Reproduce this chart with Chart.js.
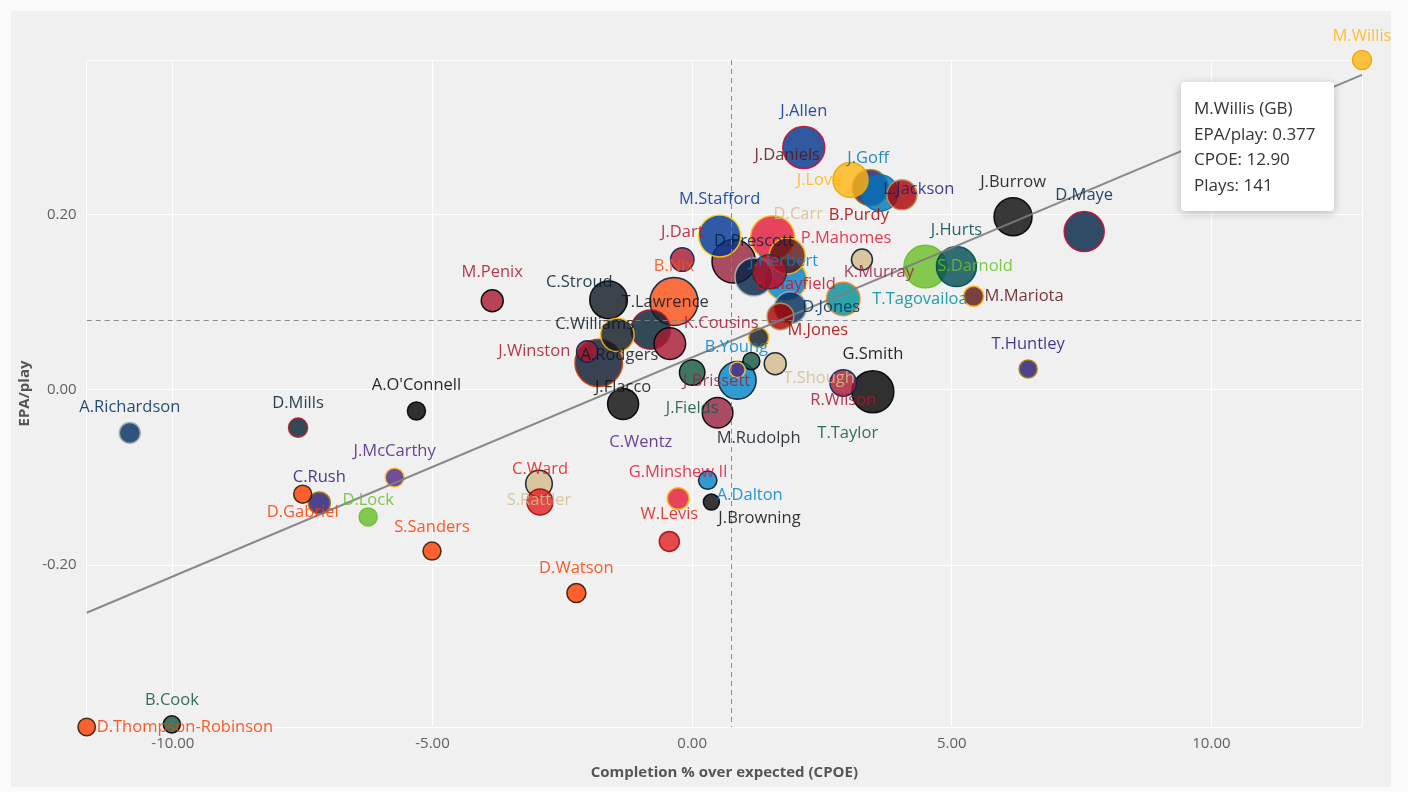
<!DOCTYPE html>
<html><head><meta charset="utf-8">
<script src="https://cdn.jsdelivr.net/npm/chart.js@4.4.1/dist/chart.umd.min.js"></script>
<style>
html,body{margin:0;padding:0;background:#fafafa;width:1408px;height:792px;overflow:hidden}
#panel{position:absolute;left:11px;top:11px;width:1380px;height:776px;background:#f0f0f0}
canvas{display:block}
</style></head><body>
<div id="panel"><canvas id="c" width="1380" height="776"></canvas></div>
<script>
// ---------- DATA ----------
const players = ['M.Willis','J.Allen','J.Love','L.Jackson','J.Goff','B.Purdy','J.Burrow','D.Maye','S.Darnold','J.Hurts',
 'M.Mariota','T.Huntley','D.Carr','P.Mahomes','J.Daniels','J.Herbert','B.Mayfield','D.Prescott','K.Murray','D.Jones',
 'M.Jones','T.Tagovailoa','M.Rudolph','T.Taylor','T.Shough','B.Young','C.Wentz','J.Fields','J.Brissett','J.Flacco',
 'T.Lawrence','A.Rodgers','C.Stroud','K.Cousins','B.Nix','C.Williams','J.Winston','M.Penix','G.Smith','R.Wilson',
 'J.Browning','A.Dalton','G.Minshew II','W.Levis','S.Rattler','C.Ward','D.Watson','S.Sanders','D.Lock','D.Gabriel',
 'C.Rush','J.McCarthy',"A.O'Connell",'D.Mills','A.Richardson','B.Cook','D.Thompson-Robinson','J.Dart','M.Stafford'];
const teams = ['GB','BUF','GB','BAL','DET','SF','CIN','NE','SEA','PHI',
 'WAS','BAL','NO','KC','WAS','LAC','TB','DAL','ARI','IND',
 'SF','MIA','PIT','NYJ','NO','CAR','MIN','NYJ','ARI','CIN',
 'JAX','PIT','HOU','ATL','DEN','CHI','NYG','ATL','LV','NYG',
 'CIN','CAR','KC','TEN','NO','TEN','CLE','CLE','SEA','CLE',
 'BAL','MIN','LV','HOU','IND','NYJ','CLE','NYG','LA'];
const cpoe = [12.90,2.15,3.05,3.43,3.62,4.04,6.18,7.55,4.49,5.09,
 5.42,6.47,3.27,1.55,1.83,1.80,1.49,1.19,0.80,1.89,
 1.70,2.91,1.28,1.14,1.60,0.87,0.87,0.00,0.49,-1.33,
 -1.61,-1.44,-0.80,-0.43,-0.35,-1.80,-2.02,-3.85,3.48,2.91,
 0.37,0.30,-0.27,-0.44,-2.95,-2.93,-2.23,-5.01,-6.24,-7.50,
 -7.18,-5.73,-5.31,-7.59,-10.83,-10.02,-11.66,-0.19,0.53];
const epa = [0.377,0.277,0.240,0.231,0.225,0.223,0.198,0.181,0.141,0.141,
 0.107,0.024,0.149,0.174,0.153,0.126,0.135,0.129,0.147,0.094,
 0.084,0.104,0.060,0.033,0.030,0.011,0.023,0.020,-0.026,-0.016,
 0.103,0.063,0.069,0.053,0.101,0.031,0.044,0.102,-0.002,0.008,
 -0.128,-0.103,-0.124,-0.173,-0.107,-0.128,-0.232,-0.184,-0.145,-0.119,
 -0.129,-0.100,-0.024,-0.043,-0.049,-0.382,-0.385,0.149,0.176];
const plays = [141,496,388,403,403,310,434,465,505,465,
 155,124,170,527,403,496,372,434,518,341,
 257,363,155,109,186,428,87,239,319,326,
 428,363,455,335,589,580,177,186,496,257,
 93,130,180,155,257,248,140,124,124,124,
 186,140,124,140,170,109,115,208,496];
const xTickValues = [-10,-5,0,5,10];
const yTickValues = [-0.2,0,0.2];
const xRange = [-11.66,12.90];
const yRange = [-0.385,0.377];
const meanCpoe = 0.75;
const meanEpa = 0.080;
const trendX = [-11.66,12.90];
const trendY = [-0.2545,0.360];
const tooltipPlayer = 'M.Willis';

// ---------- STYLE / LAYOUT ----------
const FONT = "'Open Sans', 'Noto Sans', sans-serif";
const teamColors = { // fill, border, label
 GB:['#FFB612','#EAA500','#FFB612'], BUF:['#00338D','#C60C30','#00338D'], BAL:['#241773','#9E7C0C','#241773'],
 DET:['#0076B6','#0076B6','#0076B6'], SF:['#AA0000','#B3995D','#AA0000'], CIN:['#0a0a0a','#000000','#101010'],
 NE:['#002244','#C60C30','#002244'], SEA:['#69BE28','#69BE28','#69BE28'], PHI:['#004C54','#004C54','#004C54'],
 WAS:['#5A1414','#FFB612','#5A1414'], NO:['#D3BC8D','#101820','#D3BC8D'], KC:['#E31837','#FFB612','#E31837'],
 LAC:['#0080C6','#FFC20E','#0080C6'], TB:['#B0102A','#34302B','#C8102E'], DAL:['#002244','#B0B7BC','#002244'],
 ARI:['#97233F','#000000','#97233F'], IND:['#002C5F','#A2AAAD','#002C5F'], MIA:['#008E97','#F58220','#008E97'],
 PIT:['#101820','#FFB612','#101820'], NYJ:['#125740','#000000','#125740'], CAR:['#0085CA','#101820','#0085CA'],
 MIN:['#4F2683','#FFC62F','#4F2683'], JAX:['#101820','#000000','#101820'], HOU:['#03202F','#A71930','#03202F'],
 ATL:['#A71930','#000000','#A71930'], DEN:['#FB4F14','#002244','#FB4F14'], CHI:['#0B162A','#C83803','#0B162A'],
 NYG:['#A71930','#0B2265','#A71930'], LV:['#000000','#000000','#000000'], TEN:['#E0201F','#A01010','#E0201F'],
 CLE:['#FF3C00','#311D00','#FF3C00'], LA:['#003594','#FFD100','#003594']
};
const labelOffsets = {
 'M.Willis':[0,-24],'J.Allen':[0,-36],'J.Love':[-9,0,'right'],'L.Jackson':[13,1,'left'],'J.Goff':[-12,-35],
 'B.Purdy':[-13,20,'right'],'J.Burrow':[0,-34],'D.Maye':[0,-36],'S.Darnold':[12,0,'left'],'J.Hurts':[0,-36],
 'M.Mariota':[11,0,'left'],'T.Huntley':[0,-25],'D.Carr':[-39,-45,'right'],'P.Mahomes':[28,1,'left'],'J.Daniels':[0,-101],
 'J.Herbert':[-2,-18],'B.Mayfield':[26,12],'D.Prescott':[0,-36],'K.Murray':[110,11,'left'],'D.Jones':[12,0,'left'],
 'M.Jones':[7,14,'left'],'T.Tagovailoa':[29,0,'left'],'M.Rudolph':[0,101],'T.Taylor':[66,72,'left'],'T.Shough':[8,15,'left'],
 'B.Young':[-1,-33],'C.Wentz':[-65,72,'right'],'J.Fields':[0,36],'J.Brissett':[-1,-31],'J.Flacco':[0,-17],
 'T.Lawrence':[13,2,'left'],'A.Rodgers':[2,20],'C.Stroud':[-38,-47,'right'],'K.Cousins':[14,-20,'left'],'B.Nix':[0,-35],
 'C.Williams':[-4,-39],'J.Winston':[-17,0,'right'],'M.Penix':[0,-28],'G.Smith':[0,-37],'R.Wilson':[0,17],
 'J.Browning':[7,16,'left'],'A.Dalton':[9,15,'left'],'G.Minshew II':[0,-26],'W.Levis':[0,-27],'S.Rattler':[0,17],
 'C.Ward':[0,-33],'D.Watson':[0,-25],'S.Sanders':[0,-24],'D.Lock':[0,-17],'D.Gabriel':[0,18],
 'C.Rush':[0,-26],'J.McCarthy':[0,-26],"A.O'Connell":[0,-26],'D.Mills':[0,-24],'A.Richardson':[0,-26],
 'B.Cook':[0,-24],'D.Thompson-Robinson':[10,0,'left'],'J.Dart':[0,-27],'M.Stafford':[0,-37]
};
function rgba(hex,a){const n=parseInt(hex.slice(1),16);return `rgba(${n>>16&255},${n>>8&255},${n&255},${a})`;}
const radiusOf = p => 5 + p/31;

const order = players.map((_,i)=>i).sort((a,b)=>plays[b]-plays[a]);
const bubbleData = order.map(i=>({x:cpoe[i], y:epa[i], r:radiusOf(plays[i]), idx:i}));

const overlay = {
 id:'overlay',
 afterDatasetsDraw(chart){
  const ctx = chart.ctx, xs = chart.scales.x, ys = chart.scales.y, a = chart.chartArea;
  ctx.save();
  ctx.strokeStyle = 'rgba(130,130,130,0.9)'; ctx.lineWidth = 1; ctx.setLineDash([5,4]);
  const mx = Math.round(xs.getPixelForValue(meanCpoe))+0.5, my = Math.round(ys.getPixelForValue(meanEpa))+0.5;
  ctx.beginPath(); ctx.moveTo(mx,a.top); ctx.lineTo(mx,a.bottom); ctx.stroke();
  ctx.beginPath(); ctx.moveTo(a.left,my); ctx.lineTo(a.right,my); ctx.stroke();
  ctx.setLineDash([]);
  // labels
  const meta = chart.getDatasetMeta(1);
  ctx.font = `16.5px ${FONT}`; ctx.textBaseline = 'middle';
  meta.data.forEach((el,k)=>{
   const i = bubbleData[k].idx, name = players[i];
   const off = labelOffsets[name] || [0,-(bubbleData[k].r+15)];
   ctx.textAlign = off[2] || 'center';
   ctx.fillStyle = rgba(teamColors[teams[i]][2],0.85);
   ctx.fillText(name, el.x+off[0], el.y+off[1]);
  });
  ctx.restore();
 },
 afterDraw(chart){
  const ctx = chart.ctx, xs = chart.scales.x, ys = chart.scales.y;
  const i = players.indexOf(tooltipPlayer);
  const px = xs.getPixelForValue(cpoe[i]), py = ys.getPixelForValue(epa[i]);
  const L = px-181, T = py+22, W = 153, H = 129, R = 4;
  ctx.save();
  ctx.shadowColor = 'rgba(0,0,0,0.22)'; ctx.shadowBlur = 10; ctx.shadowOffsetY = 2;
  ctx.fillStyle = '#ffffff';
  ctx.beginPath();
  ctx.moveTo(L+R,T); ctx.lineTo(L+W-R,T); ctx.quadraticCurveTo(L+W,T,L+W,T+R);
  ctx.lineTo(L+W,T+H-R); ctx.quadraticCurveTo(L+W,T+H,L+W-R,T+H);
  ctx.lineTo(L+R,T+H); ctx.quadraticCurveTo(L,T+H,L,T+H-R);
  ctx.lineTo(L,T+R); ctx.quadraticCurveTo(L,T,L+R,T); ctx.closePath(); ctx.fill();
  ctx.shadowColor = 'transparent';
  ctx.fillStyle = '#333333'; ctx.font = `17px ${FONT}`; ctx.textAlign = 'left'; ctx.textBaseline = 'middle';
  const lines = [`${players[i]} (${teams[i]})`, `EPA/play: ${epa[i].toFixed(3)}`, `CPOE: ${cpoe[i].toFixed(2)}`, `Plays: ${plays[i]}`];
  lines.forEach((t,k)=>ctx.fillText(t, L+13, T+27+k*25.7));
  ctx.restore();
 }
};

new Chart(document.getElementById('c'), {
 type:'bubble',
 data:{datasets:[
  {type:'line', data: trendX.map((x,k)=>({x, y:trendY[k]})), borderColor:'rgba(125,125,125,0.9)', borderWidth:2,
   pointRadius:0, fill:false, order:0, clip:false},
  {data: bubbleData,
   backgroundColor: bubbleData.map(d=>rgba(teamColors[teams[d.idx]][0],0.8)),
   borderColor: bubbleData.map(d=>rgba(teamColors[teams[d.idx]][1],0.9)),
   borderWidth:1.5, order:1, clip:false}
 ]},
 options:{
  responsive:false, animation:false, events:[],
  layout:{padding:{left:0,right:29,top:49,bottom:0}},
  plugins:{legend:{display:false}, tooltip:{enabled:false}},
  scales:{
   x:{type:'linear', min:xRange[0], max:xRange[1],
    afterBuildTicks:s=>{s.ticks=[xRange[0],...xTickValues,xRange[1]].map(v=>({value:v}));},
    afterFit:s=>{s.height=60;},
    ticks:{callback:v=>xTickValues.includes(v)?v.toFixed(2):'', font:{family:FONT,size:15}, color:'#606060', padding:8, maxRotation:0, autoSkip:false},
    grid:{color:'#ffffff', lineWidth:1, drawTicks:false}, border:{display:false},
    title:{display:true, text:'Completion % over expected (CPOE)', font:{family:FONT,size:15,weight:'bold'}, color:'#555555', padding:{top:0,bottom:5}}
   },
   y:{type:'linear', min:yRange[0], max:yRange[1],
    afterBuildTicks:s=>{s.ticks=[yRange[0],...yTickValues,yRange[1]].map(v=>({value:v}));},
    afterFit:s=>{s.width=75.7;},
    ticks:{callback:v=>yTickValues.includes(v)?v.toFixed(2):'', font:{family:FONT,size:15}, color:'#606060', padding:10, autoSkip:false},
    grid:{color:'#ffffff', lineWidth:1, drawTicks:false}, border:{display:false},
    title:{display:true, text:'EPA/play', font:{family:FONT,size:15,weight:'bold'}, color:'#555555', padding:{top:5,bottom:0}}
   }
  }
 },
 plugins:[overlay]
});
</script>
</body></html>
